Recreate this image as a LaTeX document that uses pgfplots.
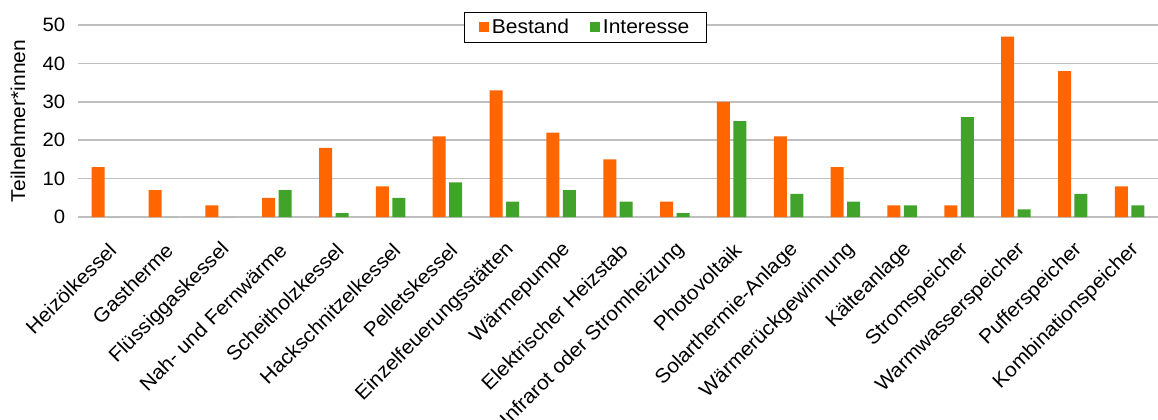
\documentclass[border=0pt]{standalone}
\usepackage{pgfplots}
\pgfplotsset{compat=1.18}
\usepackage{fontspec}
\setmainfont{Liberation Sans}[FakeStretch=1.05]
\definecolor{cOrange}{RGB}{255,102,0}
\definecolor{cGreen}{RGB}{65,163,41}
\definecolor{cGrid}{RGB}{191,191,191}
\begin{document}
\begin{tikzpicture}
\begin{axis}[
  name=ax,
  scale only axis,
  width=810pt, height=144pt,
  ybar=2.6pt, bar width=9.75pt,
  xmin=-0.5, xmax=18.5,
  ymin=0, ymax=50,
  ytick={0,10,20,30,40,50},
  xtick={0,...,18},
  xticklabels={Heizölkessel,Gastherme,Flüssiggaskessel,Nah- und Fernwärme,Scheitholzkessel,Hackschnitzelkessel,Pelletskessel,Einzelfeuerungsstätten,Wärmepumpe,Elektrischer Heizstab,Infrarot oder Stromheizung,Photovoltaik,Solarthermie-Anlage,Wärmerückgewinnung,Kälteanlage,Stromspeicher,Warmwasserspeicher,Pufferspeicher,Kombinationspeicher},
  axis lines*=left,
  y axis line style={draw=none},
  x axis line style={cGrid, line width=1.2pt},
  major tick length=0pt,
  ymajorgrids,
  grid style={cGrid, line width=1.2pt},
  /pgf/number format/assume math mode=true,
  yticklabel style={font=\fontsize{14.5}{16}\selectfont, xshift=-6pt},
  xticklabel style={font=\fontsize{15}{17}\selectfont, rotate=45, anchor=east, xshift=-9pt, yshift=-19pt},
  ylabel={Teilnehmer*innen},
  every axis y label/.style={at={(rel axis cs:0,0.5)}, xshift=-45pt, rotate=90, anchor=center, font=\fontsize{15}{17}\selectfont},
  legend columns=2,
  legend style={at={(rel axis cs:0.470,0.987)}, anchor=center, draw=black, line width=0.9pt, fill=white,
    font=\fontsize{15}{17}\selectfont, inner xsep=11pt, inner ysep=3pt,
    /tikz/every even column/.append style={column sep=14pt}},
  legend image code/.code={\fill[#1, draw=none] (0pt,-3.75pt) rectangle (7.5pt,3.75pt);},
  clip=false,
]
\addplot[fill=cOrange, draw=none] coordinates {
(0,13) (1,7) (2,3) (3,5) (4,18) (5,8) (6,21) (7,33) (8,22) (9,15) (10,4) (11,30) (12,21) (13,13) (14,3) (15,3) (16,47) (17,38) (18,8)};
\addplot[fill=cGreen, draw=none] coordinates {
(0,0) (1,0) (2,0) (3,7) (4,1) (5,5) (6,9) (7,4) (8,7) (9,4) (10,1) (11,25) (12,6) (13,4) (14,3) (15,26) (16,2) (17,6) (18,3)};
\legend{Bestand,Interesse}
\end{axis}
\pgfresetboundingbox
\path[use as bounding box] ([xshift=-58.5pt,yshift=-152.25pt]ax.south west) rectangle ([yshift=18.75pt]ax.north east);
\end{tikzpicture}
\end{document}
